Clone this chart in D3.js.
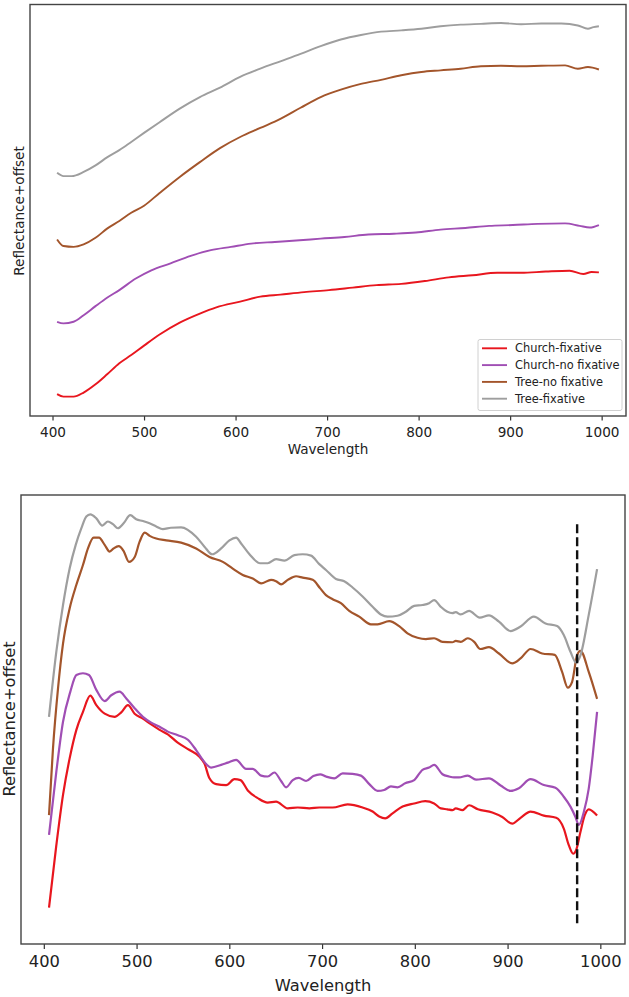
<!DOCTYPE html>
<html>
<head>
<meta charset="utf-8">
<script src="https://cdn.jsdelivr.net/npm/d3@7"></script>
<style>
  body { margin: 0; background: #fff; }
  svg text { font-family: "DejaVu Sans", sans-serif; fill: #222; }
</style>
</head>
<body>
<div id="chart"></div>
<script>
// series names + colours (legend order)
const seriesNames = ["Church-fixative", "Church-no fixative", "Tree-no fixative", "Tree-fixative"]
const seriesColors = ["#e8161e", "#a04eb4", "#a3552b", "#9e9e9e"]

const xTicks = [400, 500, 600, 700, 800, 900, 1000]

// ---- top panel: [wavelength, reflectance+offset] (arbitrary units 0-100)
const topChurchFix = [[405,5.3],[412,4.7],[423,4.7],[434,5.7],[447,7.7],[460,10.2],[473,12.8],[486,14.8],[500,17.1],[517,19.8],[539,22.7],[561,24.9],[579,26.4],[605,27.8],[627,29.0],[649,29.5],[675,30.1],[702,30.6],[728,31.2],[754,31.8],[781,32.1],[807,32.8],[833,33.7],[859,34.2],[886,34.8],[912,34.8],[939,35.1],[965,35.3],[980,34.5],[989,35.0],[997,34.9]]
const topChurchNoFix = [[405,22.9],[412,22.5],[423,22.9],[434,24.5],[447,26.7],[460,28.8],[473,30.6],[491,33.4],[508,35.4],[529,37.1],[551,38.9],[573,40.3],[595,41.1],[617,41.9],[643,42.3],[670,42.7],[693,43.1],[719,43.5],[745,44.1],[773,44.3],[797,44.6],[824,45.3],[851,45.7],[877,46.2],[903,46.4],[930,46.7],[960,46.8],[976,46.2],[987,45.8],[997,46.4]]
const topTreeNoFix = [[405,42.9],[412,41.3],[423,41.1],[434,41.7],[447,43.3],[460,45.6],[473,47.4],[486,49.4],[500,51.1],[517,54.2],[539,58.1],[561,61.7],[583,65.1],[605,67.8],[627,70.0],[649,72.2],[671,74.9],[693,77.5],[715,79.3],[737,80.7],[759,81.7],[781,82.8],[803,83.6],[824,84.0],[846,84.4],[868,85.0],[890,85.1],[912,85.0],[934,85.1],[960,85.2],[974,84.4],[985,84.8],[997,84.2]]
const topTreeFix = [[405,59.1],[412,58.3],[421,58.3],[434,59.3],[447,60.9],[460,62.9],[473,64.6],[486,66.6],[500,68.8],[517,71.4],[539,74.7],[561,77.5],[583,79.8],[605,82.4],[627,84.4],[649,86.2],[671,88.0],[693,89.9],[715,91.5],[737,92.6],[759,93.4],[781,93.7],[803,94.1],[824,94.7],[846,95.1],[868,95.3],[890,95.5],[912,95.2],[934,95.4],[956,95.4],[974,94.9],[985,94.1],[991,94.5],[997,94.7]]

// ---- bottom panel
const botChurchFix = [[405.6,8.1],[413.5,22.0],[420.7,33.2],[427.9,41.4],[435.1,47.7],[442.2,51.7],[450.1,55.3],[456.6,53.2],[465.6,51.3],[476.3,50.6],[483.5,51.6],[490.7,53.2],[497.9,51.3],[506.8,50.2],[515.8,48.9],[524.8,47.7],[533.7,46.7],[544,44.9],[557.1,43.2],[567.8,41.7],[573.2,40.2],[578.6,36.9],[585.8,35.6],[596.6,35.4],[605.5,36.7],[612.0,36.5],[619.9,34.2],[630.6,32.5],[641.4,31.5],[650.4,31.7],[663.0,30.2],[673.7,30.4],[686.3,30.2],[697,30.4],[711.4,30.4],[727.5,31.1],[743.7,30.4],[754.5,29.5],[761.6,28.4],[768.1,28.0],[776.0,29.1],[786.8,30.6],[799.3,31.3],[811.2,31.8],[820.8,31.3],[828.0,30.2],[835.1,30.0],[840.5,29.8],[844.1,30.2],[851.3,29.8],[858.5,30.9],[868,30.0],[883.5,29.3],[894.3,28.3],[905.0,26.8],[914.0,28.1],[924.8,29.5],[939.1,28.6],[952.4,28.1],[960.6,25.7],[966.0,22.0],[970.7,20.1],[973.9,20.9],[978.6,25.0],[983.2,28.7],[987.5,30.0],[996.5,28.6]]
const botChurchNoFix = [[405.6,24.3],[413.5,38.4],[420.7,49.5],[428.6,56.2],[435.1,59.9],[442.2,60.3],[448.7,59.9],[456.6,56.6],[465.6,54.1],[472.7,55.4],[481.7,56.2],[488.9,54.7],[497.9,52.5],[506.8,50.6],[515.8,49.3],[524.8,48.4],[533.7,47.3],[544.5,46.5],[555.3,45.5],[564.2,43.2],[571.4,41.0],[580.4,39.3],[591.2,39.9],[598.4,40.4],[607.3,41.0],[618.1,39.0],[625.3,39.0],[634.3,37.5],[641.4,37.3],[648.6,38.2],[655.8,36.3],[661.2,34.9],[668.4,36.5],[674.8,37.0],[682.7,36.3],[690.6,37.4],[698,37.8],[704.2,37.3],[713.2,36.9],[722.2,38.0],[732.9,37.9],[741.9,37.5],[750.9,35.6],[759.8,34.1],[767.0,34.3],[774.2,35.1],[781.3,34.9],[789.6,35.8],[799.3,36.5],[808.3,38.8],[815.4,39.3],[820.8,39.9],[829.8,37.8],[837.0,37.3],[842.3,37.1],[847.7,37.1],[857,37.5],[866,36.6],[879.9,36.9],[892.5,35.3],[903.2,34.1],[912.2,34.7],[924.8,36.7],[939.1,35.4],[951.6,34.8],[960.6,32.8],[967.8,30.6],[973.2,28.3],[976.8,26.5],[982.2,29.4],[987.5,34.6],[991.8,42.0],[996.5,51.7]]
const botTreeNoFix = [[405.6,28.7],[409.9,43.6],[415.3,56.9],[420.7,66.9],[427.9,74.8],[435.1,80.0],[442.2,84.4],[447.6,88.1],[453.7,90.5],[459.5,90.5],[465.6,88.9],[471.0,87.4],[475.3,88.1],[480.7,88.6],[486.1,87.5],[491.8,85.1],[498.0,86.2],[503.3,89.6],[508.7,91.6],[514.1,90.9],[521.2,90.3],[532.0,89.9],[548,89.4],[564.2,88.1],[578.6,86.2],[593.0,85.1],[603.7,83.6],[614.5,82.2],[625.3,81.4],[634.3,80.3],[645.0,81.1],[650.4,80.8],[655.8,80.1],[663.0,81.1],[671.9,81.9],[679.1,81.6],[689.9,81.1],[698,79.2],[704.2,77.7],[711.4,76.8],[720.3,75.9],[729.3,74.2],[740.1,72.9],[752.6,71.2],[759.8,71.2],[772.4,71.9],[783.1,70.8],[792.1,69.2],[802.9,68.2],[811.9,67.9],[820.8,68.1],[829.8,67.3],[840.5,67.2],[844.1,67.5],[849.5,67.3],[857,68.1],[864,67.3],[870.5,65.7],[879.9,66.1],[890.7,64.7],[905.0,62.5],[914.0,63.6],[924.8,65.7],[937.3,64.7],[950.9,64.4],[958.8,60.6],[964.9,57.1],[969.6,58.4],[975.0,64.4],[978.6,65.3],[987.5,60.6],[996.5,54.6]]
const botTreeFix = [[405.6,50.6],[413.5,65.1],[420.7,75.5],[427.9,83.7],[434.4,88.9],[440.5,92.6],[445.8,95.2],[450.1,95.7],[456.6,94.8],[463.0,93.2],[469.1,94.1],[474.5,93.5],[479.9,92.6],[486.0,93.7],[493.2,95.5],[499.6,94.6],[506.8,94.2],[514.0,93.7],[521.2,93.0],[528.3,92.4],[537,92.7],[548,92.8],[564.2,90.7],[573.2,88.5],[581.5,86.8],[591.2,88.1],[600.1,89.9],[607.3,90.5],[612.7,89.2],[621.7,86.8],[633.2,84.8],[641.4,84.8],[650.4,85.7],[659.4,85.4],[670.1,86.6],[679.1,86.8],[688.1,86.5],[697,84.6],[704.2,83.3],[715.0,81.3],[723.9,80.8],[732.9,79.4],[743.7,77.4],[754.5,75.1],[763.4,73.4],[770.6,72.9],[781.3,73.1],[790.3,74.0],[799.3,75.3],[808.3,75.5],[815.4,75.9],[820.8,76.6],[828.0,75.1],[835.1,74.0],[840.5,73.7],[844.1,73.9],[849.5,73.4],[858.5,74.2],[870,72.7],[879.9,73.2],[890.7,71.8],[903.2,69.7],[914.0,70.7],[928.3,72.9],[940.9,71.4],[953.4,70.8],[960.6,68.8],[967.8,65.1],[973.9,62.7],[978.6,64.3],[987.5,73.3],[996.5,83.5]]

// vertical dashed marker in the bottom panel: [wavelength, yFrom, yTo]
const markerLine = [975, 4.6, 93.5]

const W = 629, H = 997
const xDomain = [375.4, 1026.6]

const svg = d3.select("#chart")
  .append("svg")
    .attr("width", W)
    .attr("height", H)

function drawPanel(opt) {
  const x = d3.scaleLinear().domain(xDomain).range([opt.left, opt.right])
  const y = d3.scaleLinear().domain([0, 100]).range([opt.bottom, opt.top])
  const g = svg.append("g")

  const line = d3.line()
    .x(d => x(d[0]))
    .y(d => y(d[1]))
    .curve(d3.curveMonotoneX)

  opt.series.forEach((s, i) => {
    g.append("path")
      .datum(s)
      .attr("fill", "none")
      .attr("stroke", seriesColors[i])
      .attr("stroke-width", opt.lw)
      .attr("stroke-linejoin", "round")
      .attr("d", line)
  })

  if (opt.marker) {
    g.append("line")
      .attr("x1", x(opt.marker[0])).attr("x2", x(opt.marker[0]))
      .attr("y1", y(opt.marker[1])).attr("y2", y(opt.marker[2]))
      .attr("stroke", "#111")
      .attr("stroke-width", 2.4)
      .attr("stroke-dasharray", "9,4")
  }

  // x axis
  const ax = g.append("g")
    .attr("transform", `translate(0,${opt.bottom})`)
    .call(d3.axisBottom(x).tickValues(xTicks).tickFormat(d3.format("d"))
      .tickSize(opt.tick).tickPadding(opt.pad))
  ax.select(".domain").remove()
  ax.selectAll("line").attr("stroke", "#333").attr("stroke-width", 1.2)
  ax.selectAll("text").style("font-size", opt.fs + "px").attr("fill", "#222")

  // frame
  g.append("rect")
    .attr("x", opt.left).attr("y", opt.top)
    .attr("width", opt.right - opt.left).attr("height", opt.bottom - opt.top)
    .attr("fill", "none")
    .attr("stroke", "#444")
    .attr("stroke-width", 1.4)

  g.append("text")
    .attr("x", opt.xlab[0]).attr("y", opt.xlab[1])
    .attr("text-anchor", "middle")
    .style("font-size", opt.fs + "px")
    .text("Wavelength")

  g.append("text")
    .attr("transform", `translate(${opt.ylab[0]},${opt.ylab[1]}) rotate(-90)`)
    .attr("text-anchor", "middle")
    .style("font-size", opt.fs + "px")
    .text("Reflectance+offset")

  return g
}

const topPanel = drawPanel({
  left: 30, right: 626, top: 4.5, bottom: 416,
  series: [topChurchFix, topChurchNoFix, topTreeNoFix, topTreeFix],
  lw: 1.9, tick: 4.5, pad: 6.5, fs: 13.6,
  xlab: [328, 454], ylab: [24, 211]
})

drawPanel({
  left: 21, right: 625, top: 495, bottom: 944,
  series: [botChurchFix, botChurchNoFix, botTreeNoFix, botTreeFix],
  lw: 2.2, tick: 5, pad: 6.5, fs: 16.3,
  xlab: [323, 991], ylab: [14.5, 719],
  marker: markerLine
})

// legend (top panel)
const legend = topPanel.append("g")
legend.append("rect")
  .attr("x", 478).attr("y", 339.5)
  .attr("width", 144).attr("height", 71)
  .attr("rx", 2)
  .attr("fill", "#fff").attr("fill-opacity", 0.8)
  .attr("stroke", "#d0d0d0")

const item = legend.selectAll("g.item")
  .data(seriesNames)
  .join("g")
    .attr("class", "item")
    .attr("transform", (d, i) => `translate(0,${348.3 + i * 16.8})`)

item.append("line")
  .attr("x1", 482).attr("x2", 507)
  .attr("stroke", (d, i) => seriesColors[i])
  .attr("stroke-width", 1.9)

item.append("text")
  .attr("x", 515)
  .attr("dy", "0.36em")
  .style("font-size", "11.4px")
  .text(d => d)
</script>
</body>
</html>
